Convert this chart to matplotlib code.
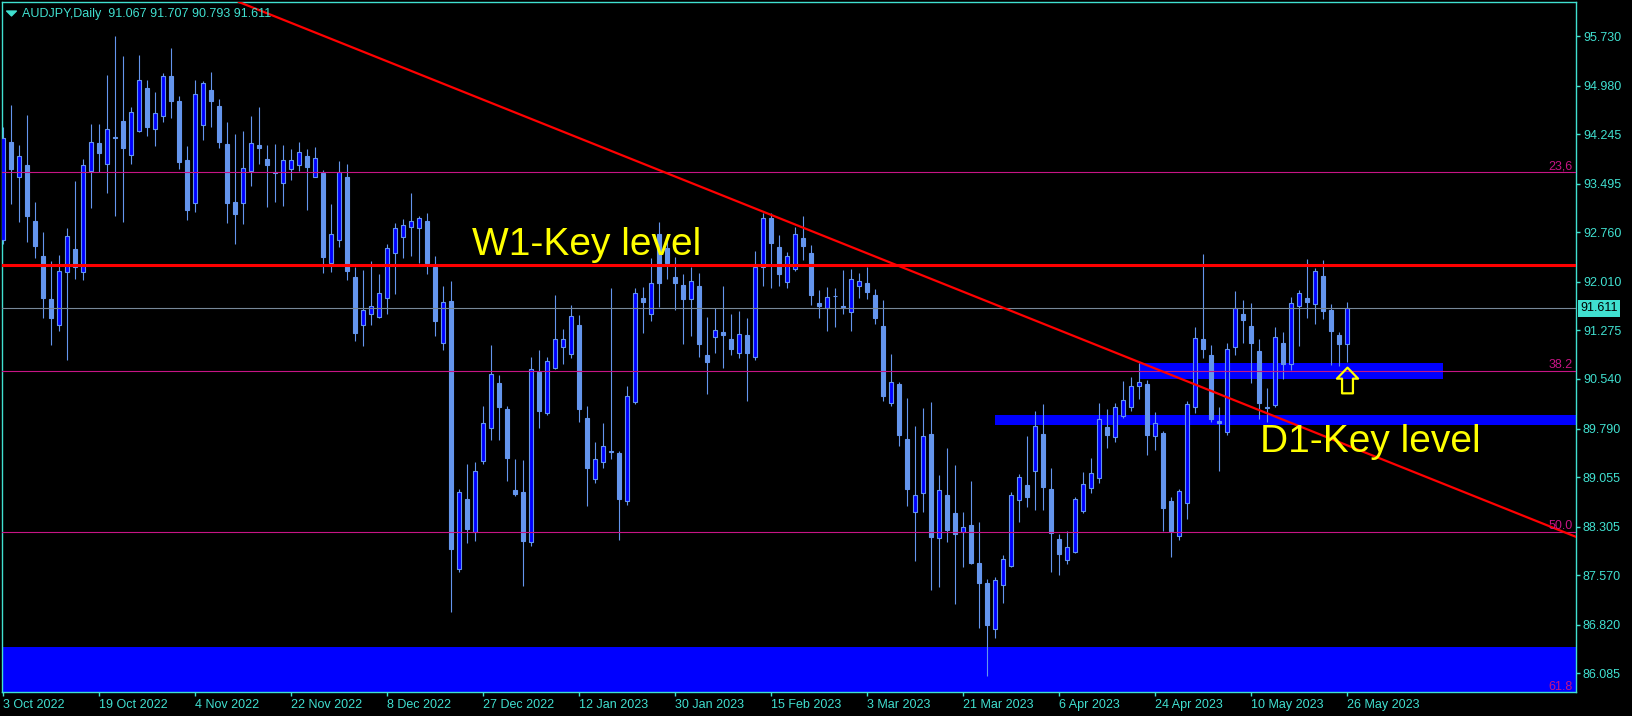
import numpy as np
import matplotlib.pyplot as plt
from matplotlib.path import Path
from matplotlib.patches import Rectangle

plt.rcParams['font.family'] = ['Liberation Sans', 'DejaVu Sans']

# AUDJPY daily bars, 3 Oct 2022 .. 26 May 2023
opens = [
    92.65, 94.13, 93.60, 93.78, 92.93, 92.40, 91.75, 91.35, 92.16, 92.51,
    92.16, 93.68, 94.11, 93.80, 94.20, 94.44, 93.93, 94.30, 94.95, 94.32,
    94.52, 95.12, 94.74, 93.86, 93.21, 94.39, 94.91, 94.67, 94.10, 93.22,
    93.21, 93.69, 94.08, 93.87, 93.67, 93.51, 93.72, 93.78, 93.91, 93.60,
    93.66, 92.29, 92.65, 93.60, 92.08, 91.35, 91.52, 91.48, 91.77, 92.44,
    92.69, 92.84, 92.83, 92.93, 92.24, 91.08, 91.72, 87.66, 88.72, 88.22,
    89.30, 89.80, 90.48, 90.09, 88.86, 88.83, 88.08, 90.64, 90.03, 90.71,
    91.03, 90.92, 91.36, 89.95, 89.02, 89.29, 89.45, 89.42, 88.70, 90.19,
    91.77, 91.53, 92.74, 92.52, 92.08, 91.96, 91.75, 91.95, 90.90, 91.17,
    91.25, 91.15, 90.94, 91.21, 90.87, 92.23, 92.97, 92.54, 92.01, 92.20,
    92.67, 92.44, 91.69, 91.62, 91.80, 91.65, 91.55, 91.95, 91.99, 91.81,
    91.34, 90.17, 90.46, 89.63, 88.52, 88.81, 89.70, 88.14, 88.78, 88.51,
    88.23, 88.33, 87.75, 87.46, 86.75, 87.42, 87.71, 88.71, 88.93, 89.15,
    89.70, 88.87, 88.12, 87.80, 87.92, 88.54, 88.89, 89.04, 89.81, 89.66,
    89.98, 90.12, 90.43, 90.47, 89.67, 89.73, 88.69, 88.17, 88.67, 90.11,
    91.15, 90.90, 89.90, 89.74, 91.02, 91.53, 91.34, 90.97, 90.11, 90.14,
    91.08, 90.76, 91.64, 91.77, 91.68, 92.10, 91.58, 91.21, 91.067,
]
highs = [
    94.36, 94.69, 94.08, 94.54, 93.22, 92.76, 92.33, 92.42, 92.82, 93.54,
    93.87, 94.40, 94.40, 95.14, 95.73, 95.43, 94.66, 95.44, 95.06, 94.88,
    95.17, 95.55, 94.83, 94.07, 95.07, 95.05, 95.19, 94.78, 94.43, 94.25,
    94.29, 94.52, 94.65, 94.08, 94.10, 94.08, 94.02, 94.13, 94.02, 94.05,
    93.70, 93.19, 93.84, 93.79, 92.24, 92.19, 92.33, 92.13, 92.58, 92.90,
    92.96, 93.36, 93.01, 93.05, 92.40, 91.95, 92.02, 88.87, 89.26, 89.28,
    90.13, 91.06, 90.60, 90.13, 89.33, 89.31, 90.87, 90.98, 90.88, 91.81,
    91.30, 91.66, 91.51, 90.13, 89.59, 89.87, 91.92, 89.45, 90.43, 91.91,
    91.93, 92.37, 92.92, 92.64, 92.38, 92.13, 92.23, 92.15, 91.48, 91.61,
    91.95, 91.53, 91.57, 91.46, 92.48, 93.05, 93.05, 92.72, 92.46, 92.84,
    93.01, 92.57, 91.89, 91.93, 91.91, 92.19, 92.21, 92.15, 92.23, 91.90,
    91.74, 90.92, 90.50, 90.25, 89.83, 90.10, 90.19, 89.09, 89.49, 89.24,
    88.52, 88.99, 88.37, 87.52, 87.54, 87.88, 88.83, 89.10, 89.68, 90.06,
    90.16, 89.19, 88.20, 88.24, 88.76, 89.13, 89.35, 90.18, 90.08, 90.18,
    90.51, 90.57, 90.78, 90.52, 90.04, 89.76, 88.76, 88.87, 90.21, 91.33,
    92.43, 91.05, 90.12, 91.08, 91.87, 91.74, 91.69, 91.14, 90.40, 91.32,
    91.25, 91.78, 91.89, 92.36, 92.22, 92.34, 91.67, 91.25, 91.707,
]
lows = [
    92.59, 93.19, 92.92, 92.62, 92.37, 91.47, 91.05, 91.27, 90.83, 92.06,
    92.04, 93.13, 93.67, 93.36, 93.00, 92.92, 93.80, 94.28, 94.22, 94.07,
    94.43, 94.49, 93.72, 92.95, 93.07, 94.15, 94.36, 94.04, 92.90, 92.59,
    92.89, 93.46, 93.80, 93.15, 93.22, 93.16, 93.55, 93.68, 93.10, 93.59,
    92.14, 92.16, 92.54, 92.04, 91.12, 91.04, 91.36, 91.47, 91.52, 91.83,
    92.37, 92.40, 92.29, 92.13, 91.19, 90.98, 87.02, 87.62, 88.06, 88.09,
    89.25, 89.62, 89.61, 89.00, 88.77, 87.40, 88.02, 89.80, 89.99, 90.69,
    90.77, 90.86, 89.89, 88.62, 88.97, 89.20, 89.33, 88.11, 88.64, 90.16,
    91.24, 91.41, 91.63, 92.05, 91.59, 91.07, 91.19, 90.88, 90.32, 90.94,
    90.71, 90.90, 90.86, 90.21, 90.82, 91.95, 91.91, 91.94, 91.92, 92.18,
    92.34, 91.66, 91.46, 91.27, 91.32, 91.53, 91.27, 91.77, 91.75, 91.37,
    90.20, 90.13, 89.53, 88.62, 87.79, 88.53, 87.34, 87.39, 88.08, 87.13,
    87.70, 87.74, 86.77, 86.05, 86.62, 87.15, 87.69, 88.38, 88.61, 88.55,
    88.56, 87.62, 87.57, 87.74, 87.90, 88.51, 88.82, 88.97, 89.49, 89.58,
    89.95, 90.06, 90.24, 89.39, 89.47, 88.24, 87.85, 88.11, 88.42, 90.02,
    90.85, 89.89, 89.15, 89.69, 90.90, 91.08, 90.48, 89.93, 89.89, 90.12,
    90.54, 90.68, 91.04, 91.47, 91.37, 91.45, 90.75, 90.74, 90.793,
]
closes = [
    94.18, 93.72, 93.91, 93.00, 92.56, 91.77, 91.47, 92.18, 92.71, 92.24,
    93.78, 94.12, 93.96, 94.32, 94.18, 94.04, 94.58, 95.07, 94.36, 94.56,
    95.12, 94.75, 93.83, 93.10, 94.86, 95.02, 94.75, 94.12, 93.21, 93.04,
    93.73, 94.11, 94.04, 93.78, 93.66, 93.85, 93.86, 93.97, 93.75, 93.88,
    92.39, 92.74, 93.67, 92.18, 91.24, 91.59, 91.64, 91.84, 92.52, 92.82,
    92.87, 92.93, 92.97, 92.30, 91.42, 91.70, 87.96, 88.83, 88.27, 89.15,
    89.88, 90.61, 90.12, 89.35, 88.80, 88.09, 90.69, 90.06, 90.81, 91.14,
    91.14, 91.49, 90.09, 89.20, 89.33, 89.52, 89.43, 88.73, 90.28, 91.84,
    91.70, 91.99, 91.99, 92.30, 91.99, 91.75, 92.02, 91.07, 90.80, 91.28,
    91.20, 91.00, 91.22, 90.93, 92.23, 92.97, 92.60, 92.13, 92.40, 92.74,
    92.56, 91.81, 91.64, 91.78, 91.79, 91.63, 92.05, 92.03, 91.86, 91.47,
    90.28, 90.50, 89.69, 88.87, 88.78, 89.67, 88.15, 88.86, 88.25, 88.19,
    88.30, 87.76, 87.46, 86.82, 87.50, 87.81, 88.79, 89.05, 88.76, 89.83,
    88.91, 88.21, 87.89, 88.00, 88.73, 88.95, 89.11, 89.93, 89.69, 90.11,
    90.22, 90.43, 90.49, 89.69, 89.87, 88.59, 88.24, 88.84, 90.16, 91.16,
    90.99, 89.93, 89.87, 90.99, 91.61, 91.44, 91.08, 90.17, 90.10, 91.18,
    90.76, 91.69, 91.84, 91.71, 92.17, 91.57, 91.26, 91.07, 91.611,
]

date_labels = ["3 Oct 2022", "19 Oct 2022", "4 Nov 2022", "22 Nov 2022",
               "8 Dec 2022", "27 Dec 2022", "12 Jan 2023", "30 Jan 2023",
               "15 Feb 2023", "3 Mar 2023", "21 Mar 2023", "6 Apr 2023",
               "24 Apr 2023", "10 May 2023", "26 May 2023"]
bars_per_label = 12

price_ticks = [95.730, 94.980, 94.245, 93.495, 92.760, 92.010, 91.275,
               90.540, 89.790, 89.055, 88.305, 87.570, 86.820, 86.085]

# fibonacci levels
fib_names = ["23,6", "38.2", "50.0", "61.8"]
fib_prices = [93.667, 90.655, 88.220, 85.785]

# drawn objects
w1_level = 92.26
trend_x = [30, 196]
trend_y = [96.22, 88.18]
zone_left = [-5, 124, 142]
zone_right = [210, 210, 180]
zone_low = [85.0, 89.84, 90.54]
zone_high = [86.48, 89.99, 90.78]
arrow_bar, arrow_price = 168, 90.52
w1_text_pos = (58.6, 92.42)
d1_text_pos = (157.1, 89.435)

symbol = "AUDJPY,Daily"

# colours
bg = "black"
turq = "#40E0D0"
wick_col = "#6495ED"
bull_col = "#0000FF"
fib_col = "#C71585"

fig = plt.figure(figsize=(16.33, 7.16), dpi=100, facecolor=bg)
ax = fig.add_axes([2 / 1633, 24 / 716, 1574 / 1633, 690 / 716])
ax.set_facecolor(bg)

o = np.array(opens)
h = np.array(highs)
l = np.array(lows)
c = np.array(closes)
x = np.arange(len(o))
up = c >= o

# zones (behind candles)
for x0, x1, lo, hi in zip(zone_left, zone_right, zone_low, zone_high):
    ax.add_patch(Rectangle((x0, lo), x1 - x0, hi - lo, facecolor=bull_col,
                           edgecolor="none", zorder=1))

# candles
ax.vlines(x, l, h, color=wick_col, linewidth=0.8, zorder=2)
body_lo = np.minimum(o, c)
body_h = np.maximum(np.abs(c - o), 0.012)
ax.bar(x[up], body_h[up], bottom=body_lo[up], width=0.5,
       color=bull_col, edgecolor=wick_col, linewidth=0.8, zorder=3)
ax.bar(x[~up], body_h[~up], bottom=body_lo[~up], width=0.5,
       color=wick_col, edgecolor=wick_col, linewidth=0.8, zorder=3)

# fib levels and bid line
ytrans = ax.get_yaxis_transform()
for name, p in zip(fib_names, fib_prices):
    ax.axhline(p, color=fib_col, linewidth=0.8, zorder=4)
    ax.text(0.998, p, name, transform=ytrans, ha="right", va="bottom",
            color=fib_col, fontsize=9, zorder=6)
ax.axhline(c[-1], color="#778899", linewidth=0.8, zorder=4)

# key level and trend line
ax.axhline(w1_level, color="red", linewidth=2.2, zorder=5)
ax.axline((trend_x[0], trend_y[0]), (trend_x[1], trend_y[1]),
          color="red", linewidth=1.6, zorder=5)

ax.text(*w1_text_pos, "W1-Key level", fontsize=28, color="yellow",
        ha="left", va="baseline", zorder=6)
ax.text(*d1_text_pos, "D1-Key level", fontsize=28, color="yellow",
        ha="left", va="baseline", zorder=6)

# hollow up arrow
arrow_verts = [(0, 12.5), (10.3, 1.8), (5.3, 1.8), (5.3, -12.5),
               (-5.3, -12.5), (-5.3, 1.8), (-10.3, 1.8), (0, 12.5)]
arrow_path = Path(arrow_verts, [Path.MOVETO] + [Path.LINETO] * 6 + [Path.CLOSEPOLY])
ax.plot([arrow_bar], [arrow_price], marker=arrow_path, markersize=18.5,
        markerfacecolor="none", markeredgecolor="yellow",
        markeredgewidth=1.6, linestyle="none", zorder=7)

# axes
ax.set_xlim(-0.125, 196.6)
ax.set_ylim(85.803, 96.245)
for s in ax.spines.values():
    s.set_color(turq)
    s.set_linewidth(1)

ax.yaxis.tick_right()
ax.set_yticks(price_ticks)
ax.set_yticklabels([f"{p:.3f}" for p in price_ticks])
ax.set_xticks(np.arange(len(date_labels)) * bars_per_label)
ax.set_xticklabels(date_labels)
for t in ax.get_xticklabels():
    t.set_horizontalalignment("left")
ax.tick_params(colors=turq, labelcolor=turq, labelsize=9, length=3, pad=2,
               width=1)

# current price label
ax.annotate(f"{closes[-1]:.3f}", xy=(1.0, closes[-1]),
            xycoords=("axes fraction", "data"), xytext=(3, 0),
            textcoords="offset points", ha="left", va="center",
            fontsize=9, color="black", annotation_clip=False, zorder=8,
            bbox=dict(boxstyle="square,pad=0.2", fc=turq, ec="none"))

# header
tri = Path([(-1, 0.5), (1, 0.5), (0, -0.5), (-1, 0.5)],
           [Path.MOVETO, Path.LINETO, Path.LINETO, Path.CLOSEPOLY])
fig.lines.append(plt.Line2D([10.5 / 1633], [1 - 12.5 / 716], marker=tri,
                            markersize=7, color=turq, linestyle="none",
                            transform=fig.transFigure))
header = f"{symbol}  {opens[-1]:.3f} {highs[-1]:.3f} {lows[-1]:.3f} {closes[-1]:.3f}"
fig.text(22 / 1633, 1 - 16.7 / 716, header, color=turq, fontsize=9,
         ha="left", va="baseline")

plt.savefig("out.png", dpi=100, facecolor=bg)
